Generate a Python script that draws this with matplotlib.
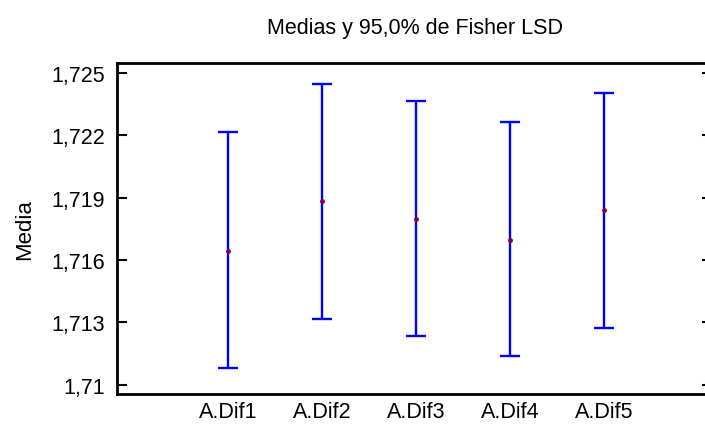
import matplotlib
matplotlib.use("Agg")
import matplotlib.pyplot as plt

# datos (medias e intervalos LSD al 95%)
grupos = ["A.Dif1", "A.Dif2", "A.Dif3", "A.Dif4", "A.Dif5"]
medias = [1.71641, 1.71885, 1.71795, 1.71696, 1.71841]
lim_inf = [1.71082, 1.71317, 1.71236, 1.71137, 1.71274]
lim_sup = [1.72214, 1.72446, 1.72365, 1.72266, 1.72402]

yticks = [1.710, 1.713, 1.716, 1.719, 1.722, 1.725]
ytick_labels = ["1,71", "1,713", "1,716", "1,719", "1,722", "1,725"]

plt.rcParams["font.family"] = ["Liberation Sans", "DejaVu Sans"]

fig = plt.figure(figsize=(7.05, 4.27), dpi=100)
ax = fig.add_axes([0.166, 0.075, 0.844, 0.775])

x = list(range(1, len(grupos) + 1))
err_lo = [m - l for m, l in zip(medias, lim_inf)]
err_hi = [u - m for m, u in zip(medias, lim_sup)]
ax.errorbar(x, medias, yerr=[err_lo, err_hi], fmt="none", ecolor="#0000ff",
            elinewidth=1.7, capsize=7, capthick=1.7)
ax.plot(x, medias, "o", color="#8b0040", ms=2.5, zorder=3)

ax.set_xlim(-0.18, 6.15)
ax.set_ylim(1.70955, 1.72548)
ax.set_xticks(x)
ax.set_xticklabels(grupos)
ax.set_yticks(yticks)
ax.set_yticklabels(ytick_labels)

ax.tick_params(axis="y", direction="in", length=7.5, width=1.5, labelsize=15.5,
               pad=8.5, right=True)
ax.tick_params(axis="x", length=0, labelsize=15.5, pad=5)
for s in ax.spines.values():
    s.set_linewidth(2)

ax.set_ylabel("Media", fontsize=16, labelpad=12)
ax.set_title("Medias y 95,0% de Fisher LSD", fontsize=15.5, pad=21.5)

fig.savefig("out.png", dpi=100)
